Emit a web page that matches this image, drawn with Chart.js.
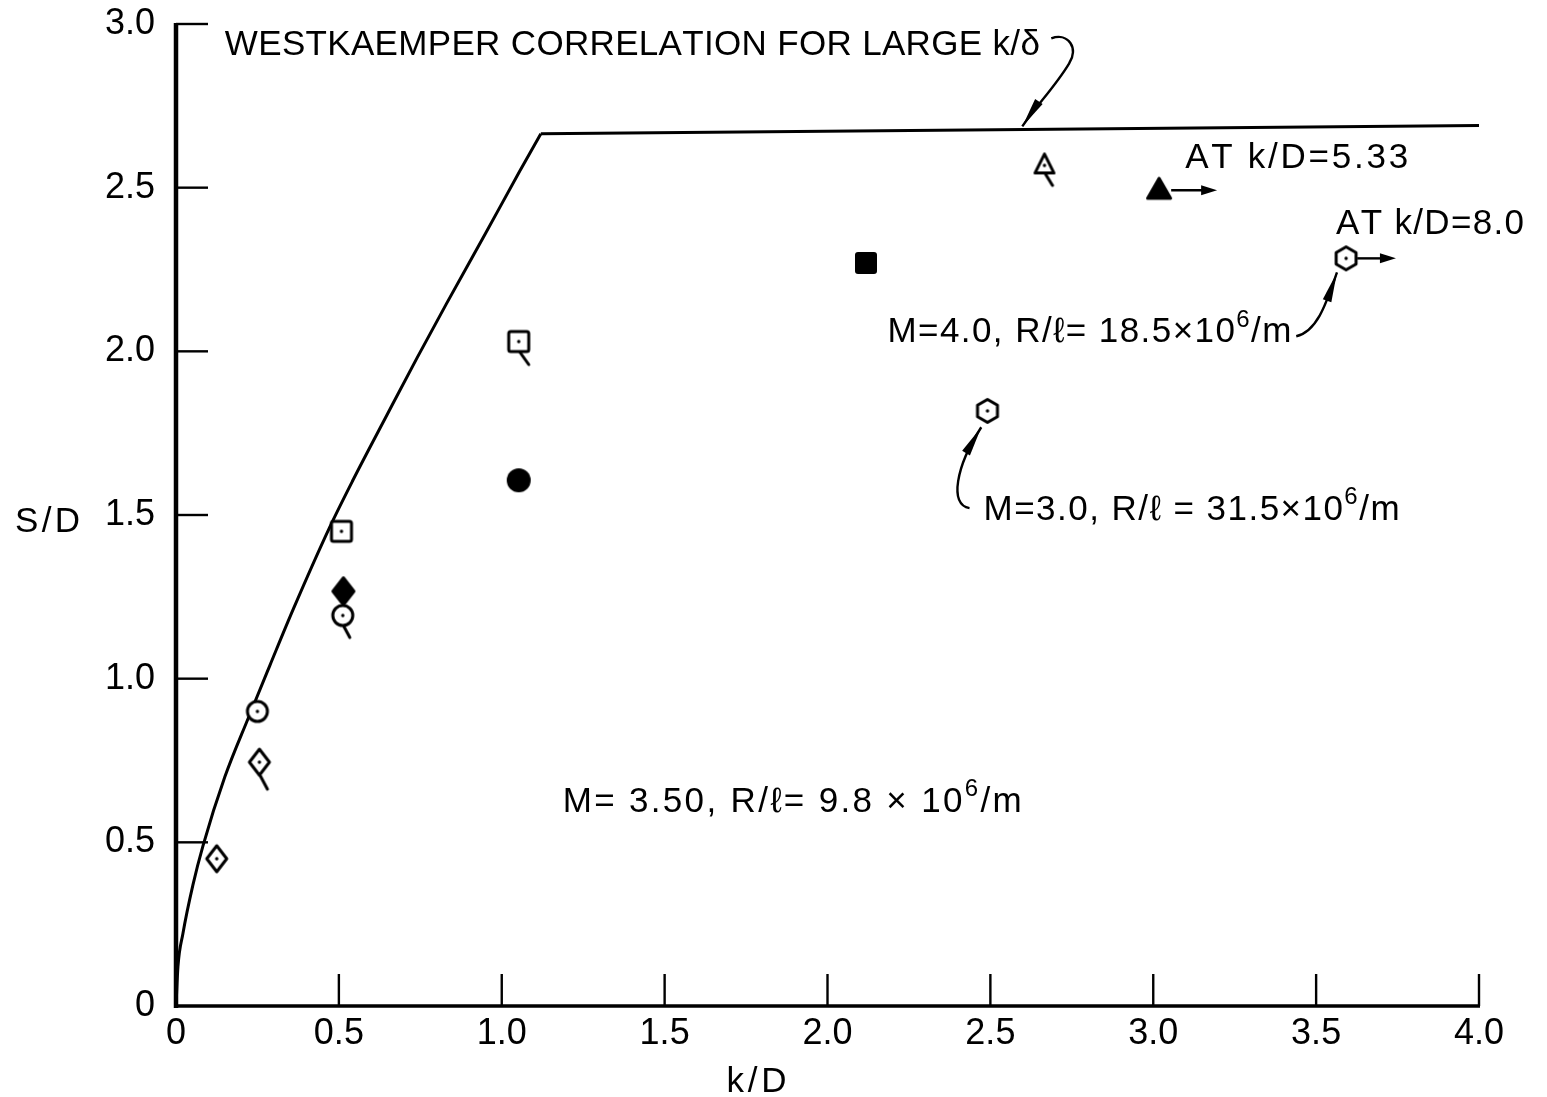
<!DOCTYPE html>
<html>
<head>
<meta charset="utf-8">
<script src="https://cdn.jsdelivr.net/npm/chart.js@4.4.1/dist/chart.umd.min.js"></script>
<style>
html,body{margin:0;padding:0;background:#fff;}
#wrap{width:1547px;height:1097px;}
</style>
</head>
<body>
<div id="wrap"><canvas id="c" width="1547" height="1097"></canvas></div>
<script>
// ---------- axis ticks ----------
const xTicks = [0, 0.5, 1.0, 1.5, 2.0, 2.5, 3.0, 3.5, 4.0];
const xTickLabels = ['0', '0.5', '1.0', '1.5', '2.0', '2.5', '3.0', '3.5', '4.0'];
const yTicks = [0, 0.5, 1.0, 1.5, 2.0, 2.5, 3.0];
const yTickLabels = ['0', '0.5', '1.0', '1.5', '2.0', '2.5', '3.0'];

// ---------- Westkaemper correlation ----------
const curveKD = [0, 0.006, 0.021, 0.052, 0.083, 0.15, 0.222, 0.288, 0.359, 0.472, 0.543, 0.65, 0.74, 0.83, 0.95, 1.055, 1.12];
const curveSD = [0, 0.12, 0.22, 0.37, 0.49, 0.70, 0.88, 1.04, 1.21, 1.463, 1.606, 1.81, 1.98, 2.145, 2.36, 2.55, 2.665];
const plateauKD = [1.12, 4.0];
const plateauSD = [2.665, 2.69];

// ---------- data points (k/D, S/D) ----------
const openDiamondKD = [0.125],      openDiamondSD = [0.45];
const openDiamondTailKD = [0.256],  openDiamondTailSD = [0.745];
const openCircleKD = [0.25],        openCircleSD = [0.90];
const openCircleTailKD = [0.512],   openCircleTailSD = [1.193];
const filledDiamondKD = [0.514],    filledDiamondSD = [1.267];
const openSquareKD = [0.508],       openSquareSD = [1.45];
const openSquareTailKD = [1.052],   openSquareTailSD = [2.03];
const filledCircleKD = [1.052],     filledCircleSD = [1.606];
const filledSquareKD = [2.118],     filledSquareSD = [2.27];
const hexagonKD = [2.491, 3.592],   hexagonSD = [1.818, 2.284];
const openTriangleTailKD = [2.666], openTriangleTailSD = [2.568];
const filledTriangleKD = [3.018],   filledTriangleSD = [2.492];

const zip = (xs, ys) => xs.map((x, i) => ({x, y: ys[i]}));

// ---------- marker images ----------
function marker(draw) {
  const s = 64, c = document.createElement('canvas');
  c.width = s; c.height = s;
  const g = c.getContext('2d');
  g.translate(s / 2, s / 2);
  g.lineWidth = 3; g.strokeStyle = '#000'; g.fillStyle = '#000';
  g.lineJoin = 'round'; g.lineCap = 'round';
  draw(g);
  return c;
}
function dot(g) { g.beginPath(); g.arc(0, 0, 1.7, 0, Math.PI * 2); g.fillStyle = '#000'; g.fill(); }
function tail(g, y0, dx, dy) { g.beginPath(); g.moveTo(0, y0); g.lineTo(dx, y0 + dy); g.stroke(); }
function diamond(g, w, h, filled) {
  g.beginPath(); g.moveTo(0, -h / 2); g.lineTo(w / 2, 0); g.lineTo(0, h / 2); g.lineTo(-w / 2, 0); g.closePath();
  g.fillStyle = filled ? '#000' : '#fff'; g.fill(); g.stroke();
}
function circle(g, r, filled) {
  g.beginPath(); g.arc(0, 0, r, 0, Math.PI * 2);
  g.fillStyle = filled ? '#000' : '#fff'; g.fill(); if (!filled) g.stroke();
}
function square(g, a, filled) {
  g.beginPath(); g.roundRect(-a / 2, -a / 2, a, a, filled ? 3 : 2);
  g.fillStyle = filled ? '#000' : '#fff'; g.fill(); if (!filled) g.stroke();
}
function triangle(g, w, h, filled) {
  g.beginPath(); g.moveTo(0, -h * 0.6); g.lineTo(w / 2, h * 0.4); g.lineTo(-w / 2, h * 0.4); g.closePath();
  g.fillStyle = filled ? '#000' : '#fff'; g.fill(); g.stroke();
}
function hexagon(g, r) {
  g.beginPath();
  for (let i = 0; i < 6; i++) {
    const a = -Math.PI / 2 + i * Math.PI / 3;
    const px = Math.cos(a) * r, py = Math.sin(a) * r;
    i ? g.lineTo(px, py) : g.moveTo(px, py);
  }
  g.closePath(); g.fillStyle = '#fff'; g.fill(); g.stroke();
}

const mOpenDiamond = marker(g => { diamond(g, 20, 26, false); dot(g); });
const mOpenDiamondTail = marker(g => { tail(g, 12, 8, 15); diamond(g, 20, 26, false); dot(g); });
const mOpenCircle = marker(g => { circle(g, 10, false); dot(g); });
const mOpenCircleTail = marker(g => { tail(g, 9, 7, 13); circle(g, 10, false); dot(g); });
const mFilledDiamond = marker(g => { diamond(g, 21, 27, true); });
const mOpenSquare = marker(g => { square(g, 20, false); dot(g); });
const mOpenSquareTail = marker(g => { tail(g, 9, 10, 14); square(g, 20, false); dot(g); });
const mFilledCircle = marker(g => { circle(g, 12, true); });
const mFilledSquare = marker(g => { square(g, 22, true); });
const mHexagon = marker(g => { hexagon(g, 11.5); dot(g); });
const mOpenTriangleTail = marker(g => { tail(g, 7, 8, 13); triangle(g, 19, 19, false); dot(g); });
const mFilledTriangle = marker(g => { triangle(g, 23, 20, true); });

function pts(kd, sd, img) {
  return { data: zip(kd, sd), pointStyle: img, pointRadius: 5, pointHoverRadius: 5, showLine: false, order: 0 };
}

const datasets = [
  pts(openDiamondKD, openDiamondSD, mOpenDiamond),
  pts(openDiamondTailKD, openDiamondTailSD, mOpenDiamondTail),
  pts(openCircleKD, openCircleSD, mOpenCircle),
  pts(openCircleTailKD, openCircleTailSD, mOpenCircleTail),
  pts(filledDiamondKD, filledDiamondSD, mFilledDiamond),
  pts(openSquareKD, openSquareSD, mOpenSquare),
  pts(openSquareTailKD, openSquareTailSD, mOpenSquareTail),
  pts(filledCircleKD, filledCircleSD, mFilledCircle),
  pts(filledSquareKD, filledSquareSD, mFilledSquare),
  pts(hexagonKD, hexagonSD, mHexagon),
  pts(openTriangleTailKD, openTriangleTailSD, mOpenTriangleTail),
  pts(filledTriangleKD, filledTriangleSD, mFilledTriangle),
  { data: zip(curveKD, curveSD), showLine: true, pointRadius: 0, borderColor: '#000', borderWidth: 3,
    cubicInterpolationMode: 'monotone', order: 5, clip: false },
  { data: zip(plateauKD, plateauSD), showLine: true, pointRadius: 0, borderColor: '#000', borderWidth: 3,
    order: 5, clip: false }
];

const FONT = "'Liberation Sans', 'DejaVu Sans', Arial, sans-serif";

function drawRich(ctx, segs, x, y, size, targetW) {
  const chars = [];
  segs.forEach(([t, sup]) => { for (const ch of t) chars.push([ch, !!sup]); });
  const fN = size + 'px ' + FONT, fS = Math.round(size * 0.68) + 'px ' + FONT;
  let nat = 0;
  chars.forEach(([ch, s]) => { ctx.font = s ? fS : fN; nat += ctx.measureText(ch).width; });
  const extra = targetW ? (targetW - nat) / (chars.length - 1) : 0;
  let cx = x;
  chars.forEach(([ch, s]) => {
    ctx.font = s ? fS : fN;
    ctx.fillText(ch, cx, s ? y - size * 0.45 : y);
    cx += ctx.measureText(ch).width + extra;
  });
}

function arrowHead(ctx, tip, from, len, hw) {
  const dx = tip[0] - from[0], dy = tip[1] - from[1];
  const L = Math.hypot(dx, dy), ux = dx / L, uy = dy / L;
  const bx = tip[0] - ux * len, by = tip[1] - uy * len;
  ctx.beginPath();
  ctx.moveTo(tip[0], tip[1]);
  ctx.lineTo(bx - uy * hw, by + ux * hw);
  ctx.lineTo(bx + uy * hw, by - ux * hw);
  ctx.closePath(); ctx.fill();
}

const decor = {
  id: 'decor',
  beforeDatasetsDraw(chart) {
    const {ctx, chartArea: a, scales: {x, y}} = chart;
    ctx.save();
    ctx.strokeStyle = '#000'; ctx.lineCap = 'butt';
    ctx.lineWidth = 4.5;
    ctx.beginPath(); ctx.moveTo(a.left, a.top - 1); ctx.lineTo(a.left, a.bottom + 2); ctx.stroke();
    ctx.lineWidth = 3.5;
    ctx.beginPath(); ctx.moveTo(a.left - 2, a.bottom); ctx.lineTo(a.right + 1, a.bottom); ctx.stroke();
    ctx.lineWidth = 2.4;
    yTicks.forEach(v => {
      if (v === 0) return;
      const py = y.getPixelForValue(v);
      ctx.beginPath(); ctx.moveTo(a.left, py); ctx.lineTo(a.left + 32, py); ctx.stroke();
    });
    xTicks.forEach(v => {
      if (v === 0) return;
      const px = x.getPixelForValue(v);
      ctx.beginPath(); ctx.moveTo(px, a.bottom); ctx.lineTo(px, a.bottom - 32); ctx.stroke();
    });
    ctx.restore();
  },
  afterDraw(chart) {
    const {ctx, chartArea: a, scales: {x, y}} = chart;
    const P = (vx, vy) => [x.getPixelForValue(vx), y.getPixelForValue(vy)];
    ctx.save();
    ctx.fillStyle = '#000'; ctx.strokeStyle = '#000';
    ctx.textBaseline = 'alphabetic'; ctx.textAlign = 'left';

    let p = P(0.150, 2.904);
    drawRich(ctx, [['WESTKAEMPER CORRELATION FOR LARGE k/δ']], p[0], p[1], 35, 815);
    p = P(3.098, 2.559);
    drawRich(ctx, [['AT k/D=5.33']], p[0], p[1], 35, 223);
    p = P(3.561, 2.357);
    drawRich(ctx, [['AT k/D=8.0']], p[0], p[1], 35, 188);
    p = P(2.184, 2.027);
    drawRich(ctx, [['M=4.0, R/ℓ= 18.5×10'], ['6', 1], ['/m']], p[0], p[1], 35, 404);
    p = P(2.479, 1.484);
    drawRich(ctx, [['M=3.0, R/ℓ = 31.5×10'], ['6', 1], ['/m']], p[0], p[1], 35, 416);
    p = P(1.187, 0.592);
    drawRich(ctx, [['M= 3.50, R/ℓ= 9.8 × 10'], ['6', 1], ['/m']], p[0], p[1], 35, 459);

    // axis titles
    ctx.textBaseline = 'middle';
    const sy = y.getPixelForValue(1.478);
    drawRich(ctx, [['S/D']], 15, sy, 35, 65);
    const kx = x.getPixelForValue(1.782);
    drawRich(ctx, [['k/D']], kx - 30, a.bottom + 76, 35, 60);

    // straight arrows
    ctx.lineWidth = 2.4;
    let s = P(3.055, 2.492), e = P(3.196, 2.492);
    ctx.beginPath(); ctx.moveTo(s[0], s[1]); ctx.lineTo(e[0] - 10, e[1]); ctx.stroke();
    arrowHead(ctx, e, s, 16, 5);
    s = P(3.626, 2.284); e = P(3.745, 2.284);
    ctx.beginPath(); ctx.moveTo(s[0], s[1]); ctx.lineTo(e[0] - 10, e[1]); ctx.stroke();
    arrowHead(ctx, e, s, 16, 5);

    // curved leader arrows
    function curved(pts, headFrom) {
      const q = pts.map(v => P(v[0], v[1]));
      ctx.beginPath(); ctx.moveTo(q[0][0], q[0][1]);
      for (let i = 1; i + 2 < q.length; i += 3)
        ctx.bezierCurveTo(q[i][0], q[i][1], q[i + 1][0], q[i + 1][1], q[i + 2][0], q[i + 2][1]);
      ctx.stroke();
      const tip = q[q.length - 1], hf = P(headFrom[0], headFrom[1]);
      arrowHead(ctx, tip, hf, 30, 4.5);
    }
    ctx.lineWidth = 2.4;
    curved([[2.687, 2.956], [2.740, 2.975], [2.772, 2.925], [2.742, 2.880],
            [2.700, 2.810], [2.640, 2.750], [2.598, 2.687]], [2.640, 2.750]);
    curved([[3.439, 2.046], [3.505, 2.062], [3.532, 2.150], [3.564, 2.241]], [3.532, 2.150]);
    curved([[2.436, 1.521], [2.372, 1.530], [2.395, 1.650], [2.472, 1.768]], [2.420, 1.680]);
    ctx.restore();
  }
};

Chart.defaults.font.family = FONT;
Chart.defaults.color = '#000';

new Chart(document.getElementById('c'), {
  type: 'scatter',
  data: { datasets },
  options: {
    responsive: false,
    animation: false,
    events: [],
    layout: { padding: { top: 24, right: 68, bottom: 0, left: 0 } },
    plugins: { legend: { display: false }, tooltip: { enabled: false } },
    scales: {
      x: {
        type: 'linear', min: 0, max: 4,
        afterBuildTicks: s => { s.ticks = xTicks.map(v => ({ value: v })); },
        afterFit: s => { s.height = 91; s.paddingLeft = 0; s.paddingRight = 0; },
        ticks: { callback: (v, i) => xTickLabels[i], font: { size: 36 }, color: '#000', padding: 6,
                 maxRotation: 0, autoSkip: false },
        grid: { display: false, drawTicks: false },
        border: { display: false }
      },
      y: {
        type: 'linear', min: 0, max: 3,
        afterBuildTicks: s => { s.ticks = yTicks.map(v => ({ value: v })); },
        afterFit: s => { s.width = 176; s.paddingTop = 0; s.paddingBottom = 0; },
        ticks: { callback: (v, i) => yTickLabels[i], font: { size: 36 }, color: '#000', padding: 21,
                 autoSkip: false },
        grid: { display: false, drawTicks: false },
        border: { display: false }
      }
    }
  },
  plugins: [decor]
});
</script>
</body>
</html>
